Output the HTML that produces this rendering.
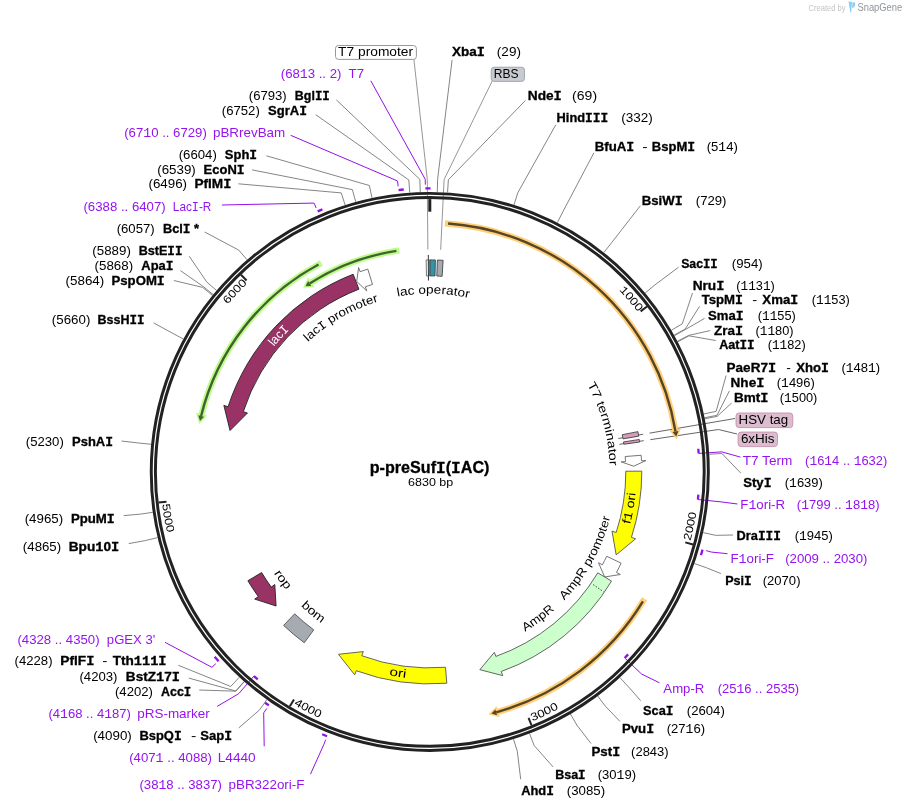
<!DOCTYPE html><html><head><meta charset="utf-8"><style>html,body{margin:0;padding:0;background:#fff;}svg{display:block;will-change:transform;font-family:"Liberation Sans",sans-serif;}</style></head><body><svg width="906" height="809" viewBox="0 0 906 809" font-family="Liberation Sans, sans-serif"><defs><path id="p1" d="M429.80,734.20 A262.30,262.30 0 0 1 429.80,209.60 A262.30,262.30 0 0 1 429.80,734.20"/><path id="p2" d="M429.80,202.20 A269.70,269.70 0 0 0 429.80,741.60 A269.70,269.70 0 0 0 429.80,202.20"/><path id="p3" d="M429.80,202.20 A269.70,269.70 0 0 0 429.80,741.60 A269.70,269.70 0 0 0 429.80,202.20"/><path id="p4" d="M429.80,202.20 A269.70,269.70 0 0 0 429.80,741.60 A269.70,269.70 0 0 0 429.80,202.20"/><path id="p5" d="M429.80,202.20 A269.70,269.70 0 0 0 429.80,741.60 A269.70,269.70 0 0 0 429.80,202.20"/><path id="p6" d="M429.80,734.20 A262.30,262.30 0 0 1 429.80,209.60 A262.30,262.30 0 0 1 429.80,734.20"/><path id="p7" d="M429.80,650.20 A178.30,178.30 0 0 1 429.80,293.60 A178.30,178.30 0 0 1 429.80,650.20"/><path id="p8" d="M429.80,649.90 A178.00,178.00 0 0 1 429.80,293.90 A178.00,178.00 0 0 1 429.80,649.90"/><path id="p9" d="M429.80,671.80 A199.90,199.90 0 0 1 429.80,272.00 A199.90,199.90 0 0 1 429.80,671.80"/><path id="p10" d="M429.80,651.90 A180.00,180.00 0 0 1 429.80,291.90 A180.00,180.00 0 0 1 429.80,651.90"/><path id="p11" d="M429.80,264.90 A207.00,207.00 0 0 0 429.80,678.90 A207.00,207.00 0 0 0 429.80,264.90"/><path id="p12" d="M429.80,285.90 A186.00,186.00 0 0 0 429.80,657.90 A186.00,186.00 0 0 0 429.80,285.90"/><path id="p13" d="M429.80,285.90 A186.00,186.00 0 0 0 429.80,657.90 A186.00,186.00 0 0 0 429.80,285.90"/><path id="p14" d="M429.80,264.40 A207.50,207.50 0 0 0 429.80,679.40 A207.50,207.50 0 0 0 429.80,264.40"/><path id="p15" d="M429.80,285.90 A186.00,186.00 0 0 0 429.80,657.90 A186.00,186.00 0 0 0 429.80,285.90"/><path id="p16" d="M429.80,285.90 A186.00,186.00 0 0 0 429.80,657.90 A186.00,186.00 0 0 0 429.80,285.90"/></defs><rect width="906" height="809" fill="#fff"/><polyline points="336.40,99.90 419.84,179.37 420.27,192.06" fill="none" stroke="#777" stroke-width="0.9"/>
<polyline points="315.70,114.70 408.82,179.95 409.73,192.62" fill="none" stroke="#777" stroke-width="0.9"/>
<polyline points="266.40,155.80 369.38,185.50 372.00,197.93" fill="none" stroke="#777" stroke-width="0.9"/>
<polyline points="252.10,169.90 352.38,189.63 355.74,201.87" fill="none" stroke="#777" stroke-width="0.9"/>
<polyline points="238.40,183.80 341.27,192.91 345.11,205.01" fill="none" stroke="#777" stroke-width="0.9"/>
<polyline points="204.70,232.00 238.76,250.14 247.05,259.76" fill="none" stroke="#777" stroke-width="0.9"/>
<polyline points="189.20,256.20 206.90,282.19 216.57,290.42" fill="none" stroke="#777" stroke-width="0.9"/>
<polyline points="180.40,270.60 203.28,286.53 213.11,294.57" fill="none" stroke="#777" stroke-width="0.9"/>
<polyline points="173.80,280.50 202.60,287.37 212.46,295.37" fill="none" stroke="#777" stroke-width="0.9"/>
<polyline points="153.60,322.90 172.16,333.00 183.34,339.02" fill="none" stroke="#777" stroke-width="0.9"/>
<polyline points="121.50,441.00 138.53,443.00 151.17,444.25" fill="none" stroke="#777" stroke-width="0.9"/>
<polyline points="123.70,515.60 140.17,514.16 152.73,512.33" fill="none" stroke="#777" stroke-width="0.9"/>
<polyline points="128.80,543.60 145.27,540.59 157.62,537.61" fill="none" stroke="#777" stroke-width="0.9"/>
<polyline points="178.40,665.30 230.73,686.48 239.37,677.17" fill="none" stroke="#777" stroke-width="0.9"/>
<polyline points="188.80,678.10 235.72,691.00 244.14,681.50" fill="none" stroke="#777" stroke-width="0.9"/>
<polyline points="199.20,690.00 235.92,691.18 244.33,681.67" fill="none" stroke="#777" stroke-width="0.9"/>
<polyline points="238.70,728.00 259.50,709.96 266.89,699.63" fill="none" stroke="#777" stroke-width="0.9"/>
<polyline points="452.10,59.90 437.61,179.30 437.27,192.00" fill="none" stroke="#777" stroke-width="0.9"/>
<polyline points="525.40,100.50 448.37,179.79 447.56,192.46" fill="none" stroke="#777" stroke-width="0.9"/>
<polyline points="555.80,124.70 517.81,192.75 513.99,204.86" fill="none" stroke="#777" stroke-width="0.9"/>
<polyline points="593.90,152.80 563.10,211.32 557.32,222.62" fill="none" stroke="#777" stroke-width="0.9"/>
<polyline points="640.30,205.80 611.71,242.59 603.82,252.54" fill="none" stroke="#777" stroke-width="0.9"/>
<polyline points="678.60,267.20 654.95,284.87 645.18,292.99" fill="none" stroke="#777" stroke-width="0.9"/>
<polyline points="692.50,293.00 682.29,323.84 671.34,330.27" fill="none" stroke="#777" stroke-width="0.9"/>
<polyline points="699.60,306.30 685.24,328.98 674.15,335.18" fill="none" stroke="#777" stroke-width="0.9"/>
<polyline points="704.50,318.40 685.50,329.45 674.41,335.63" fill="none" stroke="#777" stroke-width="0.9"/>
<polyline points="710.20,330.60 688.71,335.37 677.47,341.30" fill="none" stroke="#777" stroke-width="0.9"/>
<polyline points="715.70,340.50 688.96,335.85 677.71,341.75" fill="none" stroke="#777" stroke-width="0.9"/>
<polyline points="726.10,375.50 716.17,411.35 703.74,413.98" fill="none" stroke="#777" stroke-width="0.9"/>
<polyline points="729.40,390.90 716.98,415.31 704.52,417.76" fill="none" stroke="#777" stroke-width="0.9"/>
<polyline points="731.60,403.00 717.18,416.37 704.71,418.78" fill="none" stroke="#777" stroke-width="0.9"/>
<polyline points="740.80,473.10 721.92,453.47 709.24,454.27" fill="none" stroke="#777" stroke-width="0.9"/>
<polyline points="733.00,535.00 715.54,535.34 703.14,532.59" fill="none" stroke="#777" stroke-width="0.9"/>
<polyline points="720.90,573.60 706.38,567.71 694.37,563.55" fill="none" stroke="#777" stroke-width="0.9"/>
<polyline points="640.70,700.70 628.47,686.85 619.85,677.52" fill="none" stroke="#777" stroke-width="0.9"/>
<polyline points="620.00,721.40 605.31,706.14 597.70,695.98" fill="none" stroke="#777" stroke-width="0.9"/>
<polyline points="591.00,743.50 576.81,725.00 570.43,714.02" fill="none" stroke="#777" stroke-width="0.9"/>
<polyline points="553.00,766.90 534.09,745.39 529.56,733.52" fill="none" stroke="#777" stroke-width="0.9"/>
<polyline points="520.70,779.30 517.30,751.22 513.50,739.10" fill="none" stroke="#777" stroke-width="0.9"/>
<polyline points="370.80,80.80 425.22,179.24 425.31,184.64" fill="none" stroke="#9410ea" stroke-width="1.0"/>
<polyline points="290.70,135.30 397.55,180.98 398.15,186.35" fill="none" stroke="#9410ea" stroke-width="1.0"/>
<polyline points="221.90,205.00 314.04,203.07 316.17,208.02" fill="none" stroke="#9410ea" stroke-width="1.0"/>
<polyline points="165.00,642.30 211.86,667.29 215.88,663.68" fill="none" stroke="#9410ea" stroke-width="1.0"/>
<polyline points="217.10,706.40 238.76,693.66 253.90,676.08" fill="none" stroke="#9410ea" stroke-width="1.0"/>
<polyline points="264.20,746.30 263.69,712.90 266.75,708.45" fill="none" stroke="#9410ea" stroke-width="1.0"/>
<polyline points="310.50,774.10 323.75,744.71 325.71,739.68" fill="none" stroke="#9410ea" stroke-width="1.0"/>
<polyline points="740.40,457.10 721.81,451.86 698.67,453.44" fill="none" stroke="#9410ea" stroke-width="1.0"/>
<polyline points="737.50,504.00 720.96,501.87 697.88,499.50" fill="none" stroke="#9410ea" stroke-width="1.0"/>
<polyline points="727.50,553.70 711.31,552.05 706.12,550.57" fill="none" stroke="#9410ea" stroke-width="1.0"/>
<polyline points="659.50,682.80 641.52,674.01 624.74,657.99" fill="none" stroke="#9410ea" stroke-width="1.0"/>
<polyline points="413.90,59.40 427.25,179.21 427.86,249.51" fill="none" stroke="#8a8a8a" stroke-width="0.9"/>
<polyline points="492.30,80.80 444.10,179.55 440.66,249.77" fill="none" stroke="#8a8a8a" stroke-width="0.9"/>
<polyline points="735.00,418.50 649.50,433.15" fill="none" stroke="#555" stroke-width="0.9"/>
<polyline points="643.10,434.25 618.30,438.50" fill="none" stroke="#555" stroke-width="0.9"/>
<polyline points="737.10,434.00 718.40,429.50 650.30,439.68" fill="none" stroke="#555" stroke-width="0.9"/>
<polyline points="643.70,440.67 619.40,444.30" fill="none" stroke="#555" stroke-width="0.9"/><circle cx="429.8" cy="471.9" r="278.55" fill="none" stroke="#222" stroke-width="2.95"/>
<circle cx="429.8" cy="471.9" r="274.4" fill="none" stroke="#222" stroke-width="2.95"/>
<polyline points="429.80,199.10 429.80,211.70" fill="none" stroke="#222" stroke-width="3"/>
<polyline points="646.99,306.50 640.62,311.34" fill="none" stroke="#222" stroke-width="2"/>
<polyline points="692.98,544.48 685.26,542.35" fill="none" stroke="#222" stroke-width="2"/>
<polyline points="531.51,725.25 528.53,717.82" fill="none" stroke="#222" stroke-width="2"/>
<polyline points="289.87,706.31 293.97,699.44" fill="none" stroke="#222" stroke-width="2"/>
<polyline points="158.53,502.60 166.48,501.70" fill="none" stroke="#222" stroke-width="2"/>
<polyline points="241.02,274.69 246.56,280.47" fill="none" stroke="#222" stroke-width="2"/>
<text font-size="11.0"><textPath href="#p1" startOffset="1049.32" text-anchor="middle" textLength="29.00" lengthAdjust="spacingAndGlyphs"><tspan font-family="Liberation Mono">1</tspan>000</textPath></text>
<text font-size="11.0"><textPath href="#p2" startOffset="1214.83" text-anchor="middle" textLength="29.00" lengthAdjust="spacingAndGlyphs">2000</textPath></text>
<text font-size="11.0"><textPath href="#p3" startOffset="966.73" text-anchor="middle" textLength="29.00" lengthAdjust="spacingAndGlyphs">3000</textPath></text>
<text font-size="11.0"><textPath href="#p4" startOffset="718.62" text-anchor="middle" textLength="29.00" lengthAdjust="spacingAndGlyphs">4000</textPath></text>
<text font-size="11.0"><textPath href="#p5" startOffset="470.51" text-anchor="middle" textLength="29.00" lengthAdjust="spacingAndGlyphs">5000</textPath></text>
<text font-size="11.0"><textPath href="#p6" startOffset="607.74" text-anchor="middle" textLength="29.00" lengthAdjust="spacingAndGlyphs">6000</textPath></text>
<path d="M396.38,250.91 A223.50,223.50 0 0 0 311.34,282.37" fill="none" stroke="#bcfc8a" stroke-width="6.2" stroke-linecap="square"/>
<path d="M308.27,277.45 L302.99,287.86 L314.42,287.29 Z" fill="#bcfc8a" stroke="none"/>
<path d="M396.38,250.91 A223.50,223.50 0 0 0 309.65,283.44" fill="none" stroke="#43602f" stroke-width="2.4"/>
<path d="M308.04,280.91 L305.47,286.17 L311.27,285.97 Z" fill="#43602f" stroke="none"/>
<path d="M318.56,264.44 A235.40,235.40 0 0 0 201.60,414.14" fill="none" stroke="#bcfc8a" stroke-width="6.2" stroke-linecap="square"/>
<path d="M195.97,412.72 L199.35,423.88 L207.22,415.56 Z" fill="#bcfc8a" stroke="none"/>
<path d="M318.56,264.44 A235.40,235.40 0 0 0 201.11,416.08" fill="none" stroke="#43602f" stroke-width="2.4"/>
<path d="M198.20,415.37 L199.98,420.95 L204.03,416.79 Z" fill="#43602f" stroke="none"/>
<path d="M448.04,223.57 A249.00,249.00 0 0 1 675.16,429.47" fill="none" stroke="#ffcf78" stroke-width="6.2" stroke-linecap="square"/>
<path d="M680.87,428.48 L676.66,439.36 L669.44,430.46 Z" fill="#ffcf78" stroke="none"/>
<path d="M448.04,223.57 A249.00,249.00 0 0 1 675.49,431.44" fill="none" stroke="#574526" stroke-width="2.4"/>
<path d="M678.45,430.96 L676.25,436.39 L672.53,431.93 Z" fill="#574526" stroke="none"/>
<path d="M642.90,601.47 A249.40,249.40 0 0 1 498.16,711.75" fill="none" stroke="#ffcf78" stroke-width="6.2" stroke-linecap="square"/>
<path d="M499.75,717.33 L488.49,714.30 L496.57,706.17 Z" fill="#ffcf78" stroke="none"/>
<path d="M642.90,601.47 A249.40,249.40 0 0 1 496.23,712.29" fill="none" stroke="#574526" stroke-width="2.4"/>
<path d="M497.03,715.18 L491.40,713.57 L495.43,709.40 Z" fill="#574526" stroke="none"/>
<path d="M353.14,274.25 A212.00,212.00 0 0 0 228.06,406.74 L223.87,405.39 L230.04,430.53 L247.47,413.01 L243.29,411.66 A196.00,196.00 0 0 1 358.92,289.16 Z" fill="#993366" stroke="#222" stroke-width="0.9" stroke-linejoin="miter"/>
<path d="M367.82,269.16 A212.00,212.00 0 0 0 360.08,271.69 L358.63,267.54 L356.69,281.45 L366.79,290.96 L365.34,286.80 A196.00,196.00 0 0 1 372.50,284.46 Z" fill="#fff" stroke="#666" stroke-width="0.9" stroke-linejoin="miter"/>
<path d="M641.80,471.16 A212.00,212.00 0 0 1 631.42,537.41 L635.61,538.77 L616.16,554.87 L612.02,531.11 L616.21,532.47 A196.00,196.00 0 0 0 625.80,471.22 Z" fill="#ffff00" stroke="#555" stroke-width="0.9" stroke-linejoin="miter"/>
<path d="M641.15,455.27 A212.00,212.00 0 0 1 641.51,460.80 L645.90,460.57 L633.72,466.20 L621.14,461.87 L625.53,461.64 A196.00,196.00 0 0 0 625.20,456.52 Z" fill="#fff" stroke="#666" stroke-width="0.9" stroke-linejoin="miter"/>
<path d="M621.15,563.17 A212.00,212.00 0 0 1 616.46,572.41 L620.34,574.49 L604.66,576.97 L598.50,562.74 L602.37,564.82 A196.00,196.00 0 0 0 606.71,556.28 Z" fill="#fff" stroke="#666" stroke-width="0.9" stroke-linejoin="miter"/>
<path d="M611.52,581.09 A212.00,212.00 0 0 1 501.26,671.49 L502.75,675.63 L479.84,669.67 L494.39,652.29 L495.87,656.43 A196.00,196.00 0 0 0 597.80,572.85 Z" fill="#ccffcc" stroke="#555" stroke-width="0.9" stroke-linejoin="miter"/>
<path d="M446.80,683.22 A212.00,212.00 0 0 1 356.25,670.73 L354.72,674.86 L338.46,654.31 L363.33,651.60 L361.80,655.73 A196.00,196.00 0 0 0 445.52,667.27 Z" fill="#ffff00" stroke="#555" stroke-width="0.9" stroke-linejoin="miter"/>
<path d="M247.89,580.77 A212.00,212.00 0 0 0 258.29,596.51 L254.73,599.10 L276.07,606.00 L274.79,584.52 L271.23,587.11 A196.00,196.00 0 0 1 261.62,572.55 Z" fill="#993366" stroke="#222" stroke-width="0.9" stroke-linejoin="miter"/>
<path d="M304.29,642.76 A212.00,212.00 0 0 1 283.60,625.42 L294.63,613.84 A196.00,196.00 0 0 0 313.77,629.86 Z" fill="#a6abb2" stroke="#555" stroke-width="0.9"/>
<path d="M426.17,259.93 A212.00,212.00 0 0 1 429.69,259.90 L429.70,275.90 A196.00,196.00 0 0 0 426.45,275.93 Z" fill="#ffffff" stroke="#666" stroke-width="0.9"/>
<path d="M430.02,259.90 A212.00,212.00 0 0 1 435.42,259.97 L435.00,275.97 A196.00,196.00 0 0 0 430.01,275.90 Z" fill="#3394a8" stroke="#444" stroke-width="0.9"/>
<path d="M437.38,260.04 A212.00,212.00 0 0 1 443.11,260.32 L442.11,276.29 A196.00,196.00 0 0 0 436.81,276.03 Z" fill="#a6abb2" stroke="#444" stroke-width="0.9"/>
<path d="M637.94,431.63 A212.00,212.00 0 0 1 638.77,436.18 L623.00,438.88 A196.00,196.00 0 0 0 622.23,434.67 Z" fill="#d49bbd" stroke="#333" stroke-width="0.8"/>
<path d="M639.30,439.47 A212.00,212.00 0 0 1 639.69,442.03 L623.84,444.28 A196.00,196.00 0 0 0 623.49,441.91 Z" fill="#d49bbd" stroke="#333" stroke-width="0.8"/>
<path d="M591.96,583.77 L603.48,591.72" stroke="#fff" stroke-width="1.2" stroke-dasharray="1.5,1.5"/>
<path d="M591.96,583.77 L603.48,591.72" stroke="#333" stroke-width="1" stroke-dasharray="1.5,1.5" stroke-dashoffset="1.5"/>
<text font-size="12.0"><textPath href="#p7" startOffset="563.26" text-anchor="middle" textLength="72.00" lengthAdjust="spacingAndGlyphs">lac operator</textPath></text>
<text font-size="12.0"><textPath href="#p8" startOffset="466.00" text-anchor="middle" textLength="82.00" lengthAdjust="spacingAndGlyphs">lac<tspan font-family="Liberation Mono">I</tspan> promoter</textPath></text>
<text font-size="12.6" fill="#fff"><textPath href="#p9" startOffset="460.54" text-anchor="middle" textLength="23.00" lengthAdjust="spacingAndGlyphs">lac<tspan font-family="Liberation Mono">I</tspan></textPath></text>
<text font-size="12.0"><textPath href="#p10" startOffset="799.22" text-anchor="middle" textLength="85.00" lengthAdjust="spacingAndGlyphs">T7 terminator</textPath></text>
<text font-size="12.0"><textPath href="#p11" startOffset="937.53" text-anchor="middle" textLength="32.00" lengthAdjust="spacingAndGlyphs">f<tspan font-family="Liberation Mono">1</tspan> ori</textPath></text>
<text font-size="12.0"><textPath href="#p12" startOffset="782.36" text-anchor="middle" textLength="96.00" lengthAdjust="spacingAndGlyphs">AmpR promoter</textPath></text>
<text font-size="12.0"><textPath href="#p13" startOffset="702.50" text-anchor="middle" textLength="37.00" lengthAdjust="spacingAndGlyphs">AmpR</textPath></text>
<text font-size="12.0"><textPath href="#p14" startOffset="618.92" text-anchor="middle" textLength="17.00" lengthAdjust="spacingAndGlyphs">ori</textPath></text>
<text font-size="12.0"><textPath href="#p15" startOffset="409.68" text-anchor="middle" textLength="21.00" lengthAdjust="spacingAndGlyphs">rop</textPath></text>
<text font-size="12.0"><textPath href="#p16" startOffset="455.13" text-anchor="middle" textLength="27.00" lengthAdjust="spacingAndGlyphs">bom</textPath></text>
<text x="369.74" y="473.20" textLength="119.67" lengthAdjust="spacingAndGlyphs" font-size="15.6" font-weight="bold" stroke="#000" stroke-width="0.3">p-preSuf<tspan font-family="Liberation Mono">I</tspan>(<tspan font-family="Liberation Mono">I</tspan>AC)</text>
<text x="408.07" y="485.50" textLength="45.16" lengthAdjust="spacingAndGlyphs" font-size="10.2">6830 bp</text>
<text x="248.79" y="99.90" textLength="37.93" lengthAdjust="spacingAndGlyphs" font-size="12.2">(6793)</text>
<text x="294.87" y="99.90" textLength="34.98" lengthAdjust="spacingAndGlyphs" font-size="12.2" font-weight="bold" stroke="#000" stroke-width="0.3">Bgl<tspan font-family="Liberation Mono">I</tspan><tspan font-family="Liberation Mono">I</tspan></text>
<text x="221.78" y="114.90" textLength="38.03" lengthAdjust="spacingAndGlyphs" font-size="12.2">(6752)</text>
<text x="268.13" y="114.90" textLength="38.86" lengthAdjust="spacingAndGlyphs" font-size="12.2" font-weight="bold" stroke="#000" stroke-width="0.3">SgrA<tspan font-family="Liberation Mono">I</tspan></text>
<text x="178.68" y="159.00" textLength="38.14" lengthAdjust="spacingAndGlyphs" font-size="12.2">(6604)</text>
<text x="224.83" y="159.00" textLength="32.26" lengthAdjust="spacingAndGlyphs" font-size="12.2" font-weight="bold" stroke="#000" stroke-width="0.3">Sph<tspan font-family="Liberation Mono">I</tspan></text>
<text x="157.27" y="173.80" textLength="38.55" lengthAdjust="spacingAndGlyphs" font-size="12.2">(6539)</text>
<text x="203.63" y="173.80" textLength="40.96" lengthAdjust="spacingAndGlyphs" font-size="12.2" font-weight="bold" stroke="#000" stroke-width="0.3">EcoN<tspan font-family="Liberation Mono">I</tspan></text>
<text x="148.47" y="188.20" textLength="38.55" lengthAdjust="spacingAndGlyphs" font-size="12.2">(6496)</text>
<text x="194.49" y="188.20" textLength="36.84" lengthAdjust="spacingAndGlyphs" font-size="12.2" font-weight="bold" stroke="#000" stroke-width="0.3">PflM<tspan font-family="Liberation Mono">I</tspan></text>
<text x="116.68" y="233.00" textLength="38.03" lengthAdjust="spacingAndGlyphs" font-size="12.2">(6057)</text>
<text x="162.94" y="233.00" textLength="36.17" lengthAdjust="spacingAndGlyphs" font-size="12.2" font-weight="bold" stroke="#000" stroke-width="0.3">Bcl<tspan font-family="Liberation Mono">I</tspan> *</text>
<text x="92.38" y="255.10" textLength="38.45" lengthAdjust="spacingAndGlyphs" font-size="12.2">(5889)</text>
<text x="138.66" y="255.10" textLength="43.80" lengthAdjust="spacingAndGlyphs" font-size="12.2" font-weight="bold" stroke="#000" stroke-width="0.3">BstE<tspan font-family="Liberation Mono">I</tspan><tspan font-family="Liberation Mono">I</tspan></text>
<text x="94.57" y="269.90" textLength="38.55" lengthAdjust="spacingAndGlyphs" font-size="12.2">(5868)</text>
<text x="141.38" y="269.90" textLength="32.21" lengthAdjust="spacingAndGlyphs" font-size="12.2" font-weight="bold" stroke="#000" stroke-width="0.3">Apa<tspan font-family="Liberation Mono">I</tspan></text>
<text x="65.57" y="284.70" textLength="38.66" lengthAdjust="spacingAndGlyphs" font-size="12.2">(5864)</text>
<text x="111.52" y="284.70" textLength="53.28" lengthAdjust="spacingAndGlyphs" font-size="12.2" font-weight="bold" stroke="#000" stroke-width="0.3">PspOM<tspan font-family="Liberation Mono">I</tspan></text>
<text x="51.88" y="324.00" textLength="38.45" lengthAdjust="spacingAndGlyphs" font-size="12.2">(5660)</text>
<text x="97.56" y="324.00" textLength="46.99" lengthAdjust="spacingAndGlyphs" font-size="12.2" font-weight="bold" stroke="#000" stroke-width="0.3">BssH<tspan font-family="Liberation Mono">I</tspan><tspan font-family="Liberation Mono">I</tspan></text>
<text x="25.78" y="446.00" textLength="38.03" lengthAdjust="spacingAndGlyphs" font-size="12.2">(5230)</text>
<text x="72.03" y="446.00" textLength="40.96" lengthAdjust="spacingAndGlyphs" font-size="12.2" font-weight="bold" stroke="#000" stroke-width="0.3">PshA<tspan font-family="Liberation Mono">I</tspan></text>
<text x="24.68" y="522.60" textLength="38.45" lengthAdjust="spacingAndGlyphs" font-size="12.2">(4965)</text>
<text x="70.92" y="522.60" textLength="43.89" lengthAdjust="spacingAndGlyphs" font-size="12.2" font-weight="bold" stroke="#000" stroke-width="0.3">PpuM<tspan font-family="Liberation Mono">I</tspan></text>
<text x="22.88" y="551.30" textLength="38.24" lengthAdjust="spacingAndGlyphs" font-size="12.2">(4865)</text>
<text x="68.69" y="551.30" textLength="50.55" lengthAdjust="spacingAndGlyphs" font-size="12.2" font-weight="bold" stroke="#000" stroke-width="0.3">Bpu<tspan font-family="Liberation Mono">1</tspan>0<tspan font-family="Liberation Mono">I</tspan></text>
<text x="14.59" y="665.30" textLength="37.93" lengthAdjust="spacingAndGlyphs" font-size="12.2">(4228)</text>
<text x="60.38" y="665.30" textLength="34.06" lengthAdjust="spacingAndGlyphs" font-size="12.2" font-weight="bold" stroke="#000" stroke-width="0.3">PflF<tspan font-family="Liberation Mono">I</tspan></text>
<text x="102.31" y="665.30" textLength="5.18" lengthAdjust="spacingAndGlyphs" font-size="12.2">-</text>
<text x="112.65" y="665.30" textLength="53.89" lengthAdjust="spacingAndGlyphs" font-size="12.2" font-weight="bold" stroke="#000" stroke-width="0.3">Tth<tspan font-family="Liberation Mono">1</tspan><tspan font-family="Liberation Mono">1</tspan><tspan font-family="Liberation Mono">1</tspan><tspan font-family="Liberation Mono">I</tspan></text>
<text x="79.48" y="681.10" textLength="38.03" lengthAdjust="spacingAndGlyphs" font-size="12.2">(4203)</text>
<text x="125.89" y="681.10" textLength="54.15" lengthAdjust="spacingAndGlyphs" font-size="12.2" font-weight="bold" stroke="#000" stroke-width="0.3">BstZ<tspan font-family="Liberation Mono">1</tspan>7<tspan font-family="Liberation Mono">I</tspan></text>
<text x="114.99" y="696.00" textLength="37.93" lengthAdjust="spacingAndGlyphs" font-size="12.2">(4202)</text>
<text x="161.09" y="696.00" textLength="30.15" lengthAdjust="spacingAndGlyphs" font-size="12.2" font-weight="bold" stroke="#000" stroke-width="0.3">Acc<tspan font-family="Liberation Mono">I</tspan></text>
<text x="93.17" y="739.70" textLength="38.66" lengthAdjust="spacingAndGlyphs" font-size="12.2">(4090)</text>
<text x="139.43" y="739.70" textLength="42.25" lengthAdjust="spacingAndGlyphs" font-size="12.2" font-weight="bold" stroke="#000" stroke-width="0.3">BspQ<tspan font-family="Liberation Mono">I</tspan></text>
<text x="190.99" y="739.70" textLength="5.32" lengthAdjust="spacingAndGlyphs" font-size="12.2">-</text>
<text x="200.22" y="739.70" textLength="31.87" lengthAdjust="spacingAndGlyphs" font-size="12.2" font-weight="bold" stroke="#000" stroke-width="0.3">Sap<tspan font-family="Liberation Mono">I</tspan></text>
<text x="451.98" y="55.90" textLength="32.95" lengthAdjust="spacingAndGlyphs" font-size="12.2" font-weight="bold" stroke="#000" stroke-width="0.3">Xba<tspan font-family="Liberation Mono">I</tspan></text>
<text x="496.86" y="55.90" textLength="24.08" lengthAdjust="spacingAndGlyphs" font-size="12.2">(29)</text>
<text x="527.78" y="99.90" textLength="34.06" lengthAdjust="spacingAndGlyphs" font-size="12.2" font-weight="bold" stroke="#000" stroke-width="0.3">Nde<tspan font-family="Liberation Mono">I</tspan></text>
<text x="572.13" y="99.90" textLength="24.94" lengthAdjust="spacingAndGlyphs" font-size="12.2">(69)</text>
<text x="556.64" y="122.40" textLength="51.53" lengthAdjust="spacingAndGlyphs" font-size="12.2" font-weight="bold" stroke="#000" stroke-width="0.3">Hind<tspan font-family="Liberation Mono">I</tspan><tspan font-family="Liberation Mono">I</tspan><tspan font-family="Liberation Mono">I</tspan></text>
<text x="621.16" y="122.40" textLength="31.58" lengthAdjust="spacingAndGlyphs" font-size="12.2">(332)</text>
<text x="594.82" y="150.90" textLength="39.49" lengthAdjust="spacingAndGlyphs" font-size="12.2" font-weight="bold" stroke="#000" stroke-width="0.3">BfuA<tspan font-family="Liberation Mono">I</tspan></text>
<text x="642.29" y="150.90" textLength="5.32" lengthAdjust="spacingAndGlyphs" font-size="12.2">-</text>
<text x="651.83" y="150.90" textLength="43.37" lengthAdjust="spacingAndGlyphs" font-size="12.2" font-weight="bold" stroke="#000" stroke-width="0.3">BspM<tspan font-family="Liberation Mono">I</tspan></text>
<text x="706.69" y="150.90" textLength="31.12" lengthAdjust="spacingAndGlyphs" font-size="12.2">(5<tspan font-family="Liberation Mono">1</tspan>4)</text>
<text x="641.72" y="205.20" textLength="40.99" lengthAdjust="spacingAndGlyphs" font-size="12.2" font-weight="bold" stroke="#000" stroke-width="0.3">BsiW<tspan font-family="Liberation Mono">I</tspan></text>
<text x="695.78" y="205.20" textLength="30.73" lengthAdjust="spacingAndGlyphs" font-size="12.2">(729)</text>
<text x="681.15" y="267.70" textLength="36.59" lengthAdjust="spacingAndGlyphs" font-size="12.2" font-weight="bold" stroke="#000" stroke-width="0.3">Sac<tspan font-family="Liberation Mono">I</tspan><tspan font-family="Liberation Mono">I</tspan></text>
<text x="731.88" y="267.70" textLength="30.84" lengthAdjust="spacingAndGlyphs" font-size="12.2">(954)</text>
<text x="692.69" y="289.70" textLength="31.76" lengthAdjust="spacingAndGlyphs" font-size="12.2" font-weight="bold" stroke="#000" stroke-width="0.3">Nru<tspan font-family="Liberation Mono">I</tspan></text>
<text x="736.31" y="289.70" textLength="38.48" lengthAdjust="spacingAndGlyphs" font-size="12.2">(<tspan font-family="Liberation Mono">1</tspan><tspan font-family="Liberation Mono">1</tspan>3<tspan font-family="Liberation Mono">1</tspan>)</text>
<text x="701.66" y="304.20" textLength="41.32" lengthAdjust="spacingAndGlyphs" font-size="12.2" font-weight="bold" stroke="#000" stroke-width="0.3">TspM<tspan font-family="Liberation Mono">I</tspan></text>
<text x="752.34" y="304.20" textLength="4.91" lengthAdjust="spacingAndGlyphs" font-size="12.2">-</text>
<text x="762.38" y="304.20" textLength="35.82" lengthAdjust="spacingAndGlyphs" font-size="12.2" font-weight="bold" stroke="#000" stroke-width="0.3">Xma<tspan font-family="Liberation Mono">I</tspan></text>
<text x="811.71" y="304.20" textLength="38.09" lengthAdjust="spacingAndGlyphs" font-size="12.2">(<tspan font-family="Liberation Mono">1</tspan><tspan font-family="Liberation Mono">1</tspan>53)</text>
<text x="708.02" y="319.50" textLength="35.58" lengthAdjust="spacingAndGlyphs" font-size="12.2" font-weight="bold" stroke="#000" stroke-width="0.3">Sma<tspan font-family="Liberation Mono">I</tspan></text>
<text x="757.71" y="319.50" textLength="38.09" lengthAdjust="spacingAndGlyphs" font-size="12.2">(<tspan font-family="Liberation Mono">1</tspan><tspan font-family="Liberation Mono">1</tspan>55)</text>
<text x="714.00" y="335.00" textLength="29.03" lengthAdjust="spacingAndGlyphs" font-size="12.2" font-weight="bold" stroke="#000" stroke-width="0.3">Zra<tspan font-family="Liberation Mono">I</tspan></text>
<text x="755.51" y="335.00" textLength="38.09" lengthAdjust="spacingAndGlyphs" font-size="12.2">(<tspan font-family="Liberation Mono">1</tspan><tspan font-family="Liberation Mono">1</tspan>80)</text>
<text x="719.19" y="349.30" textLength="35.48" lengthAdjust="spacingAndGlyphs" font-size="12.2" font-weight="bold" stroke="#000" stroke-width="0.3">Aat<tspan font-family="Liberation Mono">I</tspan><tspan font-family="Liberation Mono">I</tspan></text>
<text x="767.71" y="349.30" textLength="37.98" lengthAdjust="spacingAndGlyphs" font-size="12.2">(<tspan font-family="Liberation Mono">1</tspan><tspan font-family="Liberation Mono">1</tspan>82)</text>
<text x="726.60" y="371.70" textLength="49.43" lengthAdjust="spacingAndGlyphs" font-size="12.2" font-weight="bold" stroke="#000" stroke-width="0.3">PaeR7<tspan font-family="Liberation Mono">I</tspan></text>
<text x="786.38" y="371.70" textLength="4.64" lengthAdjust="spacingAndGlyphs" font-size="12.2">-</text>
<text x="796.28" y="371.70" textLength="32.72" lengthAdjust="spacingAndGlyphs" font-size="12.2" font-weight="bold" stroke="#000" stroke-width="0.3">Xho<tspan font-family="Liberation Mono">I</tspan></text>
<text x="841.49" y="371.70" textLength="38.71" lengthAdjust="spacingAndGlyphs" font-size="12.2">(<tspan font-family="Liberation Mono">1</tspan>48<tspan font-family="Liberation Mono">1</tspan>)</text>
<text x="730.59" y="386.70" textLength="33.74" lengthAdjust="spacingAndGlyphs" font-size="12.2" font-weight="bold" stroke="#000" stroke-width="0.3">Nhe<tspan font-family="Liberation Mono">I</tspan></text>
<text x="776.80" y="386.70" textLength="38.01" lengthAdjust="spacingAndGlyphs" font-size="12.2">(<tspan font-family="Liberation Mono">1</tspan>496)</text>
<text x="733.99" y="401.50" textLength="34.44" lengthAdjust="spacingAndGlyphs" font-size="12.2" font-weight="bold" stroke="#000" stroke-width="0.3">Bmt<tspan font-family="Liberation Mono">I</tspan></text>
<text x="779.81" y="401.50" textLength="37.59" lengthAdjust="spacingAndGlyphs" font-size="12.2">(<tspan font-family="Liberation Mono">1</tspan>500)</text>
<text x="743.22" y="486.80" textLength="28.38" lengthAdjust="spacingAndGlyphs" font-size="12.2" font-weight="bold" stroke="#000" stroke-width="0.3">Sty<tspan font-family="Liberation Mono">I</tspan></text>
<text x="784.80" y="486.80" textLength="38.01" lengthAdjust="spacingAndGlyphs" font-size="12.2">(<tspan font-family="Liberation Mono">1</tspan>639)</text>
<text x="736.64" y="540.40" textLength="44.33" lengthAdjust="spacingAndGlyphs" font-size="12.2" font-weight="bold" stroke="#000" stroke-width="0.3">Dra<tspan font-family="Liberation Mono">I</tspan><tspan font-family="Liberation Mono">I</tspan><tspan font-family="Liberation Mono">I</tspan></text>
<text x="794.69" y="540.40" textLength="38.11" lengthAdjust="spacingAndGlyphs" font-size="12.2">(<tspan font-family="Liberation Mono">1</tspan>945)</text>
<text x="725.16" y="584.60" textLength="26.50" lengthAdjust="spacingAndGlyphs" font-size="12.2" font-weight="bold" stroke="#000" stroke-width="0.3">Psi<tspan font-family="Liberation Mono">I</tspan></text>
<text x="762.69" y="584.60" textLength="37.82" lengthAdjust="spacingAndGlyphs" font-size="12.2">(2070)</text>
<text x="643.13" y="714.50" textLength="30.34" lengthAdjust="spacingAndGlyphs" font-size="12.2" font-weight="bold" stroke="#000" stroke-width="0.3">Sca<tspan font-family="Liberation Mono">I</tspan></text>
<text x="686.78" y="714.50" textLength="38.03" lengthAdjust="spacingAndGlyphs" font-size="12.2">(2604)</text>
<text x="621.92" y="733.30" textLength="32.19" lengthAdjust="spacingAndGlyphs" font-size="12.2" font-weight="bold" stroke="#000" stroke-width="0.3">Pvu<tspan font-family="Liberation Mono">I</tspan></text>
<text x="666.69" y="733.30" textLength="38.32" lengthAdjust="spacingAndGlyphs" font-size="12.2">(27<tspan font-family="Liberation Mono">1</tspan>6)</text>
<text x="591.51" y="756.40" textLength="28.70" lengthAdjust="spacingAndGlyphs" font-size="12.2" font-weight="bold" stroke="#000" stroke-width="0.3">Pst<tspan font-family="Liberation Mono">I</tspan></text>
<text x="631.10" y="756.40" textLength="37.51" lengthAdjust="spacingAndGlyphs" font-size="12.2">(2843)</text>
<text x="555.16" y="779.30" textLength="30.49" lengthAdjust="spacingAndGlyphs" font-size="12.2" font-weight="bold" stroke="#000" stroke-width="0.3">Bsa<tspan font-family="Liberation Mono">I</tspan></text>
<text x="597.69" y="779.30" textLength="38.32" lengthAdjust="spacingAndGlyphs" font-size="12.2">(30<tspan font-family="Liberation Mono">1</tspan>9)</text>
<text x="521.18" y="794.50" textLength="32.80" lengthAdjust="spacingAndGlyphs" font-size="12.2" font-weight="bold" stroke="#000" stroke-width="0.3">Ahd<tspan font-family="Liberation Mono">I</tspan></text>
<text x="566.78" y="794.50" textLength="38.35" lengthAdjust="spacingAndGlyphs" font-size="12.2">(3085)</text>
<text x="280.78" y="77.70" textLength="60.63" lengthAdjust="spacingAndGlyphs" font-size="12.2" fill="#9514ee">(68<tspan font-family="Liberation Mono">1</tspan>3 .. 2)</text>
<text x="348.60" y="77.70" textLength="15.36" lengthAdjust="spacingAndGlyphs" font-size="12.2" fill="#9514ee">T7</text>
<path d="M425.36,188.33 A283.60,283.60 0 0 1 430.58,188.30" fill="none" stroke="#9410ea" stroke-width="2.3"/>
<text x="124.18" y="137.00" textLength="82.63" lengthAdjust="spacingAndGlyphs" font-size="12.2" fill="#9514ee">(67<tspan font-family="Liberation Mono">1</tspan>0 .. 6729)</text>
<text x="212.93" y="137.00" textLength="72.35" lengthAdjust="spacingAndGlyphs" font-size="12.2" fill="#9514ee">pBRrevBam</text>
<path d="M398.56,190.03 A283.60,283.60 0 0 1 403.75,189.50" fill="none" stroke="#9410ea" stroke-width="2.3"/>
<text x="83.48" y="211.00" textLength="82.24" lengthAdjust="spacingAndGlyphs" font-size="12.2" fill="#9514ee">(6388 .. 6407)</text>
<text x="172.83" y="211.00" textLength="38.51" lengthAdjust="spacingAndGlyphs" font-size="12.2" fill="#9514ee">Lac<tspan font-family="Liberation Mono">I</tspan>-R</text>
<path d="M317.64,211.42 A283.60,283.60 0 0 1 322.45,209.40" fill="none" stroke="#9410ea" stroke-width="2.3"/>
<text x="17.48" y="643.80" textLength="82.14" lengthAdjust="spacingAndGlyphs" font-size="12.2" fill="#9514ee">(4328 .. 4350)</text>
<text x="106.86" y="643.80" textLength="48.30" lengthAdjust="spacingAndGlyphs" font-size="12.2" fill="#9514ee">pGEX 3'</text>
<path d="M218.64,661.21 A283.60,283.60 0 0 1 214.68,656.70" fill="none" stroke="#9410ea" stroke-width="2.3"/>
<text x="48.49" y="718.30" textLength="82.42" lengthAdjust="spacingAndGlyphs" font-size="12.2" fill="#9514ee">(4<tspan font-family="Liberation Mono">1</tspan>68 .. 4<tspan font-family="Liberation Mono">1</tspan>87)</text>
<text x="137.23" y="718.30" textLength="72.59" lengthAdjust="spacingAndGlyphs" font-size="12.2" fill="#9514ee">pRS-marker</text>
<path d="M257.69,679.28 A269.50,269.50 0 0 1 253.90,676.08" fill="none" stroke="#9410ea" stroke-width="2.3"/>
<text x="129.18" y="761.90" textLength="82.84" lengthAdjust="spacingAndGlyphs" font-size="12.2" fill="#9514ee">(407<tspan font-family="Liberation Mono">1</tspan> .. 4088)</text>
<text x="217.68" y="761.90" textLength="38.06" lengthAdjust="spacingAndGlyphs" font-size="12.2" fill="#9514ee">L4440</text>
<path d="M268.85,705.41 A283.60,283.60 0 0 1 265.01,702.71" fill="none" stroke="#9410ea" stroke-width="2.3"/>
<text x="139.48" y="789.30" textLength="82.43" lengthAdjust="spacingAndGlyphs" font-size="12.2" fill="#9514ee">(38<tspan font-family="Liberation Mono">1</tspan>8 .. 3837)</text>
<text x="228.54" y="789.30" textLength="75.90" lengthAdjust="spacingAndGlyphs" font-size="12.2" fill="#9514ee">pBR322ori-F</text>
<path d="M327.05,736.23 A283.60,283.60 0 0 1 322.21,734.30" fill="none" stroke="#9410ea" stroke-width="2.3"/>
<text x="742.70" y="464.70" textLength="49.66" lengthAdjust="spacingAndGlyphs" font-size="12.2" fill="#9514ee">T7 Term</text>
<text x="805.10" y="464.70" textLength="82.20" lengthAdjust="spacingAndGlyphs" font-size="12.2" fill="#9514ee">(<tspan font-family="Liberation Mono">1</tspan>6<tspan font-family="Liberation Mono">1</tspan>4 .. <tspan font-family="Liberation Mono">1</tspan>632)</text>
<path d="M698.30,448.75 A269.50,269.50 0 0 1 698.67,453.44" fill="none" stroke="#9410ea" stroke-width="2.3"/>
<text x="740.31" y="508.90" textLength="44.80" lengthAdjust="spacingAndGlyphs" font-size="12.2" fill="#9514ee">F<tspan font-family="Liberation Mono">1</tspan>ori-R</text>
<text x="796.89" y="508.90" textLength="82.61" lengthAdjust="spacingAndGlyphs" font-size="12.2" fill="#9514ee">(<tspan font-family="Liberation Mono">1</tspan>799 .. <tspan font-family="Liberation Mono">1</tspan>8<tspan font-family="Liberation Mono">1</tspan>8)</text>
<path d="M698.35,494.56 A269.50,269.50 0 0 1 697.88,499.50" fill="none" stroke="#9410ea" stroke-width="2.3"/>
<text x="730.41" y="562.50" textLength="43.53" lengthAdjust="spacingAndGlyphs" font-size="12.2" fill="#9514ee">F<tspan font-family="Liberation Mono">1</tspan>ori-F</text>
<text x="785.18" y="562.50" textLength="82.24" lengthAdjust="spacingAndGlyphs" font-size="12.2" fill="#9514ee">(2009 .. 2030)</text>
<path d="M702.56,549.56 A283.60,283.60 0 0 1 700.93,555.06" fill="none" stroke="#9410ea" stroke-width="2.3"/>
<text x="663.37" y="692.70" textLength="40.94" lengthAdjust="spacingAndGlyphs" font-size="12.2" fill="#9514ee">Amp-R</text>
<text x="717.69" y="692.70" textLength="81.51" lengthAdjust="spacingAndGlyphs" font-size="12.2" fill="#9514ee">(25<tspan font-family="Liberation Mono">1</tspan>6 .. 2535)</text>
<path d="M628.13,654.37 A269.50,269.50 0 0 1 624.74,657.99" fill="none" stroke="#9410ea" stroke-width="2.3"/>
<rect x="335.5" y="45.5" width="80.9" height="13.9" rx="3" fill="#fff" stroke="#8c8c8c" stroke-width="0.9"/>
<text x="338.09" y="55.90" textLength="75.04" lengthAdjust="spacingAndGlyphs" font-size="12.2">T7 promoter</text>
<polyline points="428.32,255.11 428.50,280.60" fill="none" stroke="#444" stroke-width="1.1"/>
<rect x="491.2" y="67.2" width="33.3" height="14.2" rx="3" fill="#c7cad0" stroke="#9ba0a8" stroke-width="0.9"/>
<text x="493.71" y="77.90" textLength="24.85" lengthAdjust="spacingAndGlyphs" font-size="12.2">RBS</text>
<text x="396.27" y="0.00" textLength="72.86" lengthAdjust="spacingAndGlyphs" font-size="12.2" visibility="hidden">lac operator</text>
<rect x="736.0" y="413.0" width="56.8" height="14.6" rx="3" fill="#dcbdcf" stroke="#c690ae" stroke-width="0.9"/>
<text x="738.61" y="423.80" textLength="49.55" lengthAdjust="spacingAndGlyphs" font-size="12.2">HSV tag</text>
<rect x="738.1" y="432.1" width="39.4" height="14.5" rx="3" fill="#dcbdcf" stroke="#c690ae" stroke-width="0.9"/>
<text x="740.92" y="442.80" textLength="33.57" lengthAdjust="spacingAndGlyphs" font-size="12.2">6xHis</text>
<text x="808.41" y="10.50" textLength="37.20" lengthAdjust="spacingAndGlyphs" font-size="8.5" fill="#c4c4c4">Created by</text>
<path d="M848.5,1.6 L852.0,1.9 L851.2,12.4 L850.3,12.4 Z" fill="#86cff7"/><path d="M852.5,2.2 L855.0,2.6 C855.6,5.2 854.9,7.4 852.1,8.3 Z" fill="#86cff7"/>
<text x="857.48" y="10.80" textLength="44.74" lengthAdjust="spacingAndGlyphs" font-size="10" fill="#8e959c">SnapGene</text></svg></body></html>
